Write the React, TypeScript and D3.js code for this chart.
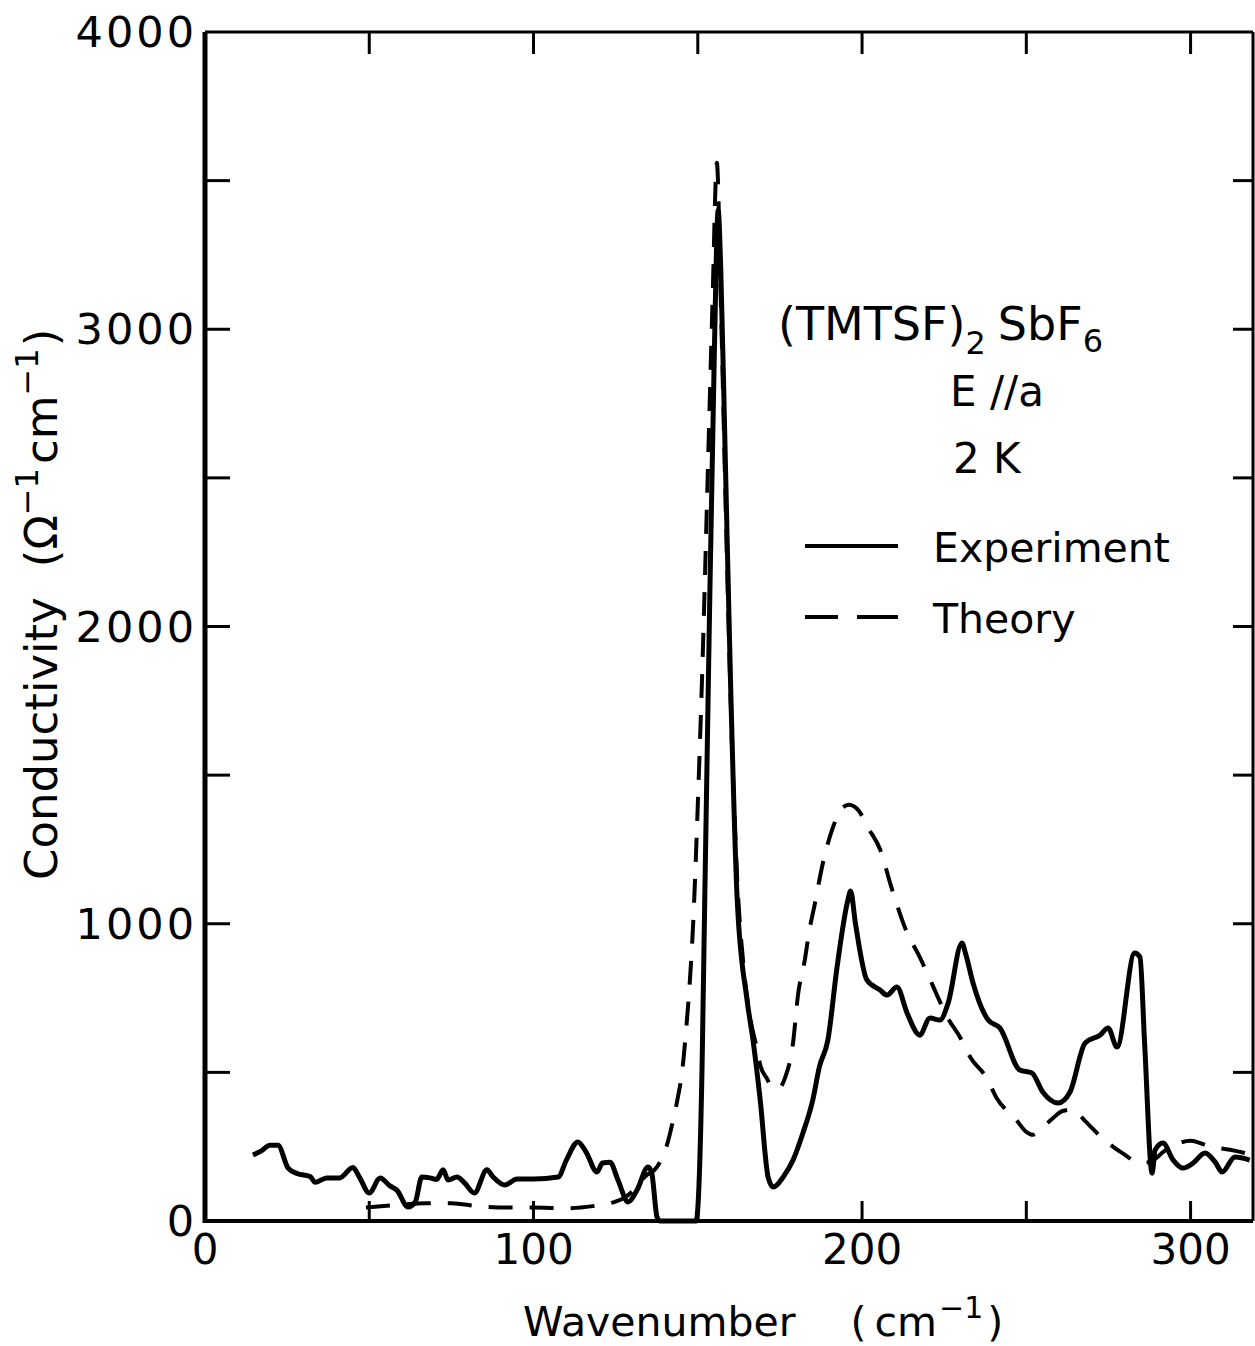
import React from 'react';
import * as d3 from 'd3';

// Experiment (solid)
const expWavenumber = [
  14.6, 17, 19.8, 22.2, 25.3, 28, 32, 33.5, 37, 41, 45, 47, 50, 53.3, 56.3, 58.4, 61.8, 64, 66, 68.5, 70.5,
  72.5, 74, 76.7, 79, 82, 85.8, 87.7, 91.3, 95, 100, 107.5, 110, 113.5, 116, 119.3, 121, 123.3, 125.7, 128.8,
  131.5, 134.9, 136, 137.6, 138.5, 149.5, 150.2, 151.3, 152, 153.5, 155, 156.2, 157, 158.3, 160, 162, 165,
  166.8, 169, 171.4, 173, 176, 179, 182, 185, 187, 189.6, 192.4, 195.7, 196.5, 198, 201.5, 205.5, 207.6,
  210.6, 213.7, 216.7, 217.5, 220.7, 223.7, 226.2, 230.4, 231.5, 233.8, 238.4, 242, 248, 251.7, 255, 259.7,
  263.3, 267.9, 272.4, 274.9, 277.6, 283, 284.6, 286, 288.3, 289.2, 291.6, 294.7, 297.7, 300.8, 304.4, 307.5,
  309.6, 313.5, 318,
];
const expConductivity = [
  222, 235, 255, 255, 178, 160, 150, 130, 145, 145, 180, 148, 94, 145, 118, 104, 47, 64, 148, 145, 140,
  172, 138, 148, 128, 94, 172, 148, 121, 141, 141, 148, 205, 266, 232, 165, 195, 198, 138, 64,
  104, 182, 160, 13, 0, 0, 80, 520, 1000, 2000, 2900, 3400, 3200, 2600, 1800, 1080, 743,
  609, 407, 148, 114, 148, 205, 296, 407, 518, 609, 855, 1080, 1110, 1000, 810, 777, 760,
  787, 700, 632, 625, 683, 676, 733, 935, 900, 800, 676, 649, 508, 498, 434, 397,
  434, 599, 625, 649, 585, 902, 888, 600, 161, 239, 262, 205, 178, 195, 229, 198,
  165, 215, 205,
];

// Theory (dashed)
const theoryWavenumber = [
  49, 60, 67, 75, 83, 92, 100, 110, 118, 124, 128, 131, 134, 137.6, 140.6, 142.5, 144, 145.2, 146.5, 147.6,
  148.5, 150, 151.5, 153, 154.5, 155.8, 157, 158.5, 160, 162, 164, 166, 168, 169, 171, 172.6, 174.5, 176.5,
  179, 180.5, 182.6, 184, 185.5, 188, 191, 194, 196, 199, 202, 205.5, 209, 213.7, 217, 220, 223, 226, 230,
  233, 238, 241, 246.6, 250, 252, 255, 258, 261, 264, 268, 273, 279, 285, 288, 292, 296, 300, 306, 312, 318,
];
const theoryConductivity = [
  45, 55, 60, 60, 50, 45, 45, 43, 50, 62, 80, 110, 150, 182, 255, 340, 420, 500, 650, 810,
  980, 1400, 1900, 2500, 3100, 3560, 3100, 2400, 1750, 1150, 850, 680, 580, 525, 480, 450, 445, 480,
  600, 760, 880, 980, 1060, 1200, 1320, 1390, 1400, 1380, 1320, 1250, 1120, 970, 900, 830, 755, 685, 615,
  550, 480, 413, 345, 300, 290, 315, 345, 370, 375, 335, 280, 230, 195, 200, 235, 260, 270, 250, 240, 225,
];

const xTickLabels = [0, 100, 200, 300];
const xMinorTicks = [50, 100, 150, 200, 250, 300];
const yTickLabels = [0, 1000, 2000, 3000, 4000];
const yMinorTicks = [500, 1000, 1500, 2000, 2500, 3000, 3500];

const FONT = "'DejaVu Sans', sans-serif";

export default function App() {
  const W = 1255;
  const H = 1346;
  const x = d3.scaleLinear().domain([0, 319]).range([205, 1253]);
  const y = d3.scaleLinear().domain([0, 4000]).range([1221, 32]);

  const expPts: [number, number][] = expWavenumber.map((w, i) => [w, expConductivity[i]]);
  const thPts: [number, number][] = theoryWavenumber.map((w, i) => [w, theoryConductivity[i]]);

  const line = d3
    .line<[number, number]>()
    .x((d) => x(d[0]))
    .y((d) => y(d[1]))
    .curve(d3.curveMonotoneX);

  const [x0, x1] = x.range();
  const [y0, y1] = y.range();

  return (
    <svg
      width={W}
      height={H}
      viewBox={`0 0 ${W} ${H}`}
      style={{ position: 'absolute', left: 0, top: 0, background: '#fff' }}
    >
      <rect x={0} y={0} width={W} height={H} fill="#fff" />
      {/* frame */}
      <line x1={x0} y1={y1} x2={x0} y2={y0 + 2} stroke="#000" strokeWidth={5} />
      <line x1={x0} y1={y0} x2={x1} y2={y0} stroke="#000" strokeWidth={4} />
      <line x1={x0} y1={y1} x2={x1} y2={y1} stroke="#000" strokeWidth={3} />
      <line x1={x1} y1={y1} x2={x1} y2={y0} stroke="#000" strokeWidth={3} />

      {/* ticks */}
      {yMinorTicks.map((v) => (
        <g key={'yt' + v}>
          <line x1={x0} x2={x0 + 25} y1={y(v)} y2={y(v)} stroke="#000" strokeWidth={3} />
          <line x1={x1} x2={x1 - 20} y1={y(v)} y2={y(v)} stroke="#000" strokeWidth={3} />
        </g>
      ))}
      {xMinorTicks.map((v) => (
        <g key={'xt' + v}>
          <line x1={x(v)} x2={x(v)} y1={y0} y2={y0 - 20} stroke="#000" strokeWidth={3} />
          <line x1={x(v)} x2={x(v)} y1={y1} y2={y1 + 22} stroke="#000" strokeWidth={3} />
        </g>
      ))}

      {/* tick labels */}
      {yTickLabels.map((v) => (
        <text
          key={'yl' + v}
          x={197}
          y={y(v) + 15}
          textAnchor="end"
          fontFamily={FONT}
          fontSize={43}
          letterSpacing={3}
        >
          {v}
        </text>
      ))}
      {xTickLabels.map((v) => (
        <text
          key={'xl' + v}
          x={x(v)}
          y={1264}
          textAnchor="middle"
          fontFamily={FONT}
          fontSize={42}
        >
          {v}
        </text>
      ))}

      {/* axis titles */}
      <text x={523} y={1336} fontFamily={FONT} fontSize={41}>
        Wavenumber
        <tspan dx={55}>(</tspan>
        <tspan dx={8}>cm</tspan>
        <tspan fontSize={30} dy={-18} dx={2}>−1</tspan>
        <tspan dy={18} dx={4}>)</tspan>
      </text>
      <text
        transform="translate(57,880) rotate(-90)"
        fontFamily={FONT}
        fontSize={45}
      >
        Conductivity
        <tspan dx={30}>(Ω</tspan>
        <tspan fontSize={32} dy={-19}>−1</tspan>
        <tspan dy={19} dx={4}>cm</tspan>
        <tspan fontSize={32} dy={-19}>−1</tspan>
        <tspan dy={19} dx={2}>)</tspan>
      </text>

      {/* curves */}
      <path d={line(thPts) ?? ''} fill="none" stroke="#000" strokeWidth={4} strokeDasharray="24 17" />
      <path d={line(expPts) ?? ''} fill="none" stroke="#000" strokeWidth={5} strokeLinejoin="round" />

      {/* annotations */}
      <text x={778} y={340} fontFamily={FONT} fontSize={46}>
        (TMTSF)
        <tspan fontSize={32} dy={14}>2</tspan>
        <tspan dy={-14} dx={12}>SbF</tspan>
        <tspan fontSize={32} dy={12}>6</tspan>
      </text>
      <text x={950} y={406} fontFamily={FONT} fontSize={42}>
        E //a
      </text>
      <text x={953} y={473} fontFamily={FONT} fontSize={42}>
        2 K
      </text>
      <line x1={805} x2={898} y1={546} y2={546} stroke="#000" strokeWidth={4} />
      <text x={933} y={562} fontFamily={FONT} fontSize={41}>
        Experiment
      </text>
      <line x1={805} x2={898} y1={617} y2={617} stroke="#000" strokeWidth={4} strokeDasharray="33 19 41" />
      <text x={933} y={633} fontFamily={FONT} fontSize={41}>
        Theory
      </text>
    </svg>
  );
}
